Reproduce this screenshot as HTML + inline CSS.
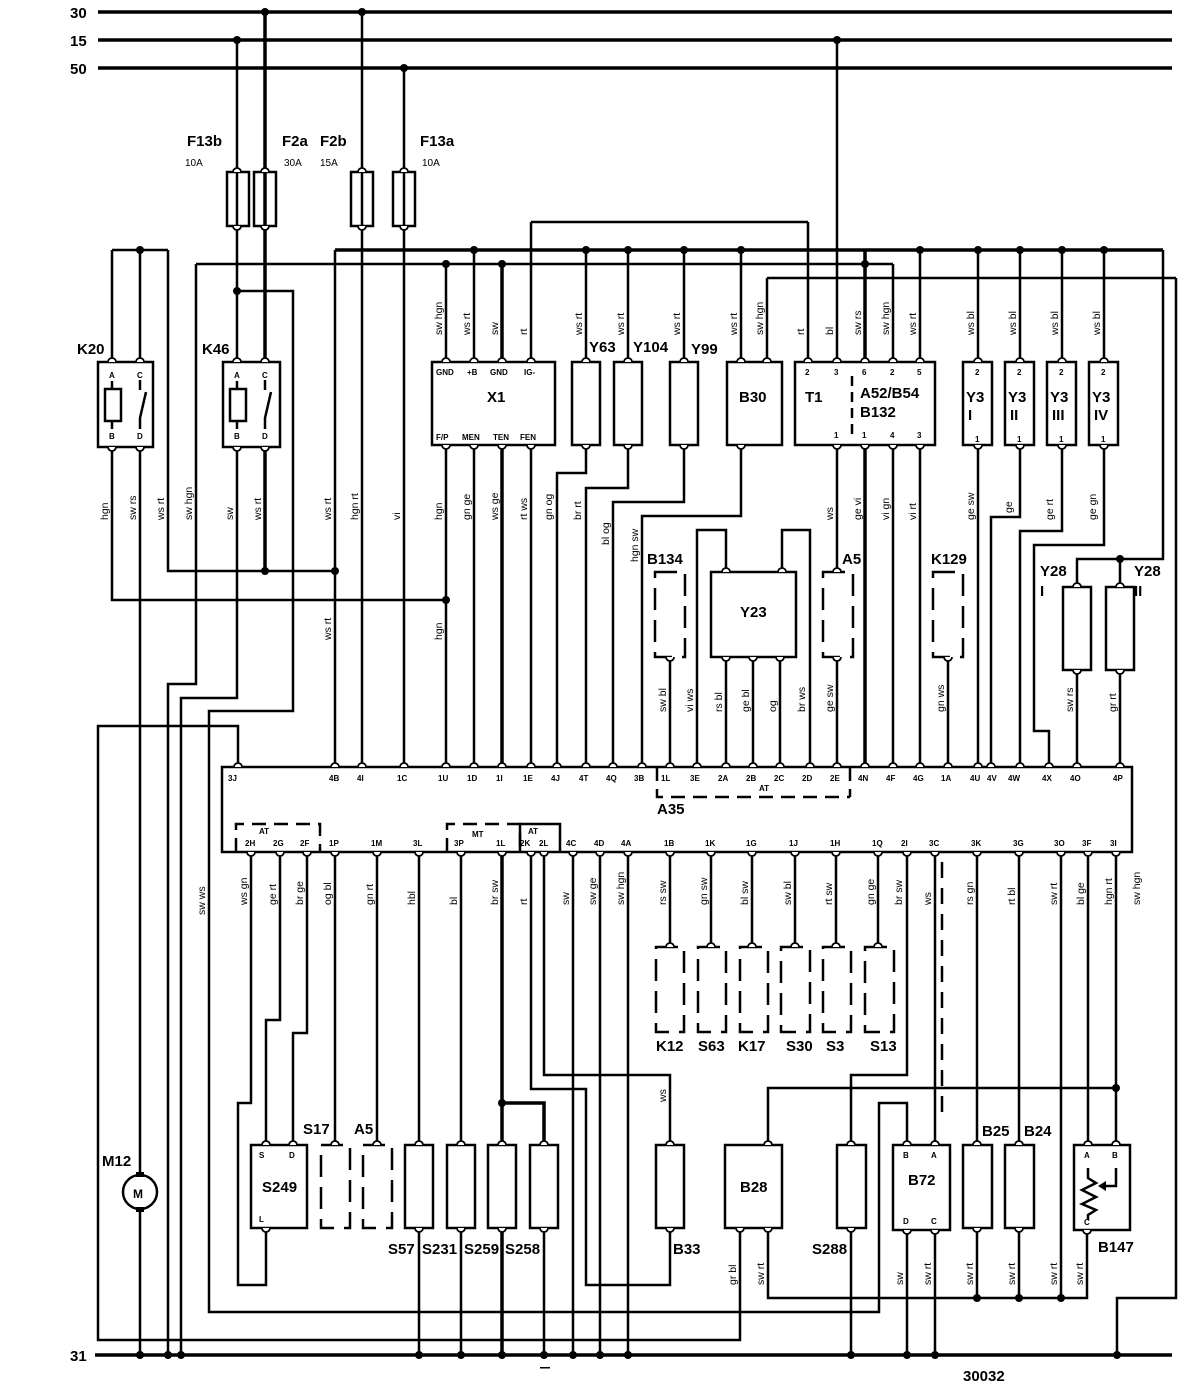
<!DOCTYPE html>
<html><head><meta charset="utf-8"><style>
html,body{margin:0;padding:0;background:#fff}
svg{display:block}
text{font-family:"Liberation Sans",sans-serif;fill:#000;stroke:none}
.b{font-weight:bold;font-size:15px}
.s{font-size:10px}
.p{font-weight:bold;font-size:8px}
.v{font-size:10.5px}
</style></head><body>
<svg width="1200" height="1397" viewBox="0 0 1200 1397" xmlns="http://www.w3.org/2000/svg">
<defs>
<symbol id="pt" overflow="visible"><path d="M-4,0 A4,4 0 0 1 4,0" fill="#fff" stroke="#000" stroke-width="1.8"/></symbol>
<symbol id="pb" overflow="visible"><path d="M-4,0 A4,4 0 0 0 4,0" fill="#fff" stroke="#000" stroke-width="1.8"/></symbol>
</defs>
<g stroke="#000" stroke-width="2.5" fill="none">
<g stroke-width="3.5">
<line x1="98" y1="12" x2="1172" y2="12"/>
<line x1="98" y1="40" x2="1172" y2="40"/>
<line x1="98" y1="68" x2="1172" y2="68"/>
<line x1="95" y1="1355" x2="1172" y2="1355"/>
<line x1="335" y1="250" x2="1163" y2="250"/>
</g>
<line x1="196" y1="264" x2="893" y2="264"/>
<line x1="767" y1="278" x2="1176" y2="278"/>
<line x1="531" y1="222" x2="808" y2="222"/>
<line x1="112" y1="250" x2="168" y2="250"/>
<path d="M237,40 V362"/>
<path d="M265,12 V362 M265,445 V571" stroke-width="3.5"/>
<path d="M362,12 V768"/>
<path d="M404,68 V768"/>
<path d="M837,40 V362"/>
<path d="M237,291 H293 V711 H209 V1312 H879 V1103 H907 V1145"/>
<path d="M112,250 V362 M140,250 V362 M168,250 V571 H335"/>
<path d="M112,445 V600 H446"/>
<path d="M140,445 V1174 M140,1210 V1355"/>
<path d="M196,264 V684 H168 V1355"/>
<path d="M237,445 V698 H181 V1355"/>
<path d="M238,768 V726 H98 V1340 H740 V1228"/>
<path d="M335,250 V768"/>
<path d="M446,264 V362 M446,445 V768 M474,250 V362 M474,445 V768 M531,222 V362 M531,445 V768"/>
<path d="M502,264 V362 M502,445 V768" stroke-width="3.5"/>
<path d="M586,250 V362 M586,445 V473 H557 V768"/>
<path d="M628,250 V362 M628,445 V488 H586 V768"/>
<path d="M684,250 V362 M684,445 V502 H613 V768"/>
<path d="M741,250 V362 M741,445 V516 H642 V768"/>
<path d="M767,278 V362 M808,222 V362"/>
<path d="M865,250 V362 M865,445 V768" stroke-width="3.5"/>
<path d="M893,264 V362 M893,445 V768 M920,250 V362 M920,445 V768 M837,445 V572"/>
<path d="M978,250 V362 M1020,250 V362 M1062,250 V362 M1104,250 V362"/>
<path d="M978,445 V768"/>
<path d="M1020,445 V517 H991 V768"/>
<path d="M1062,445 V531 H1020 V768"/>
<path d="M1104,445 V545 H1034 V731 H1049 V768"/>
<path d="M1163,250 V559 H1077 V587 M1120,559 V587"/>
<path d="M1077,670 V768 M1120,670 V768"/>
<path d="M1176,278 V1298 H1117 V1355"/>
<path d="M670,657 V768 M697,768 V530 H726 V572 M810,768 V530 H782 V572"/>
<path d="M726,657 V768 M753,657 V768 M780,657 V768 M837,657 V768 M948,657 V768"/>
<path d="M251,852 V1103 H238 V1285 H266 V1228"/>
<path d="M280,852 V1020 H266 V1145"/>
<path d="M307,852 V1033 H293 V1145"/>
<path d="M335,852 V1145 M377,852 V1145"/>
<path d="M419,852 V1145 M419,1228 V1355 M461,852 V1145 M461,1228 V1355"/>
<path d="M502,852 V1145 M502,1228 V1355 M502,1103 H544 V1145" stroke-width="3.5"/>
<path d="M544,1228 V1355"/>
<path d="M531,852 V1089 H586 V1285 H670 V1228"/>
<path d="M544,852 V1075 H670 V1145"/>
<path d="M573,852 V1355 M600,852 V1355 M628,852 V1355"/>
<path d="M670,852 V947 M711,852 V947 M752,852 V947 M795,852 V947 M836,852 V947 M878,852 V947"/>
<path d="M907,852 V1075 H851 V1145 M851,1228 V1355"/>
<path d="M935,852 V1145 M907,1228 V1355 M935,1228 V1355"/>
<path d="M942,862 V1120" stroke-dasharray="16 10"/>
<path d="M977,852 V1145 M977,1228 V1298 M1019,852 V1145 M1019,1228 V1298 M1061,852 V1298"/>
<path d="M1088,852 V1145 M1116,852 V1145"/>
<path d="M768,1145 V1088 H1116"/>
<path d="M768,1228 V1298 H1087 V1228"/>
<g fill="#fff">
<rect x="227" y="172" width="22" height="54"/><rect x="254" y="172" width="22" height="54"/>
<rect x="351" y="172" width="22" height="54"/><rect x="393" y="172" width="22" height="54"/>
<rect x="98" y="362" width="55" height="85"/><rect x="223" y="362" width="57" height="85"/>
<rect x="432" y="362" width="123" height="83"/>
<rect x="572" y="362" width="28" height="83"/><rect x="614" y="362" width="28" height="83"/>
<rect x="670" y="362" width="28" height="83"/><rect x="727" y="362" width="55" height="83"/>
<rect x="795" y="362" width="140" height="83"/>
<rect x="963" y="362" width="29" height="83"/><rect x="1005" y="362" width="29" height="83"/>
<rect x="1047" y="362" width="29" height="83"/><rect x="1089" y="362" width="29" height="83"/>
<rect x="711" y="572" width="85" height="85"/>
<rect x="1063" y="587" width="28" height="83"/><rect x="1106" y="587" width="28" height="83"/>
<rect x="222" y="767" width="910" height="85"/>
<rect x="251" y="1145" width="56" height="83"/>
<rect x="405" y="1145" width="28" height="83"/><rect x="447" y="1145" width="28" height="83"/>
<rect x="488" y="1145" width="28" height="83"/><rect x="530" y="1145" width="28" height="83"/>
<rect x="656" y="1145" width="28" height="83"/><rect x="725" y="1145" width="57" height="83"/>
<rect x="837" y="1145" width="29" height="83"/><rect x="893" y="1145" width="57" height="85"/>
<rect x="963" y="1145" width="29" height="83"/><rect x="1005" y="1145" width="29" height="83"/>
<rect x="1074" y="1145" width="56" height="85"/>
</g>
<line x1="237" y1="172" x2="237" y2="226"/><line x1="265" y1="172" x2="265" y2="226" stroke-width="3.5"/>
<line x1="362" y1="172" x2="362" y2="226"/><line x1="404" y1="172" x2="404" y2="226"/>
<g stroke-dasharray="22 10">
<rect x="655" y="572" width="30" height="85"/><rect x="823" y="572" width="30" height="85"/>
<rect x="933" y="572" width="30" height="85"/>
<rect x="656" y="947" width="28" height="85"/><rect x="698" y="947" width="28" height="85"/>
<rect x="740" y="947" width="28" height="85"/><rect x="781" y="947" width="29" height="85"/>
<rect x="823" y="947" width="28" height="85"/><rect x="865" y="947" width="29" height="85"/>
<rect x="321" y="1145" width="29" height="83"/><rect x="363" y="1145" width="29" height="83"/>
</g>
<path d="M657,767 V797 H850 M850,767 V797" stroke-dasharray="14 8"/>
<path d="M236,852 V824 H320 V852" stroke-dasharray="14 8"/>
<path d="M447,852 V824 H520 V852" stroke-dasharray="14 8"/>
<path d="M520,852 V824 H560 V852"/>
<path d="M852,376 V440" stroke-dasharray="10 6"/>
<rect x="105" y="389" width="16" height="32"/>
<path d="M112,381 V389 M112,421 V429 M140,380 V390 M146,392 L140,418 V429"/>
<rect x="230" y="389" width="16" height="32"/>
<path d="M237,381 V389 M237,421 V429 M265,380 V390 M271,392 L265,418 V429"/>
<path d="M1088,1168 V1178 L1096,1183 L1082,1190 L1096,1197 L1082,1204 L1096,1210 L1088,1215 V1220"/>
<path d="M1116,1168 V1186 H1102"/>
<circle cx="140" cy="1192" r="17" stroke-width="2.5"/>
</g>
<path d="M1098,1186 l8,-5 v10 z" fill="#000"/>
<g>
<use href="#pt" x="237" y="172"/><use href="#pt" x="265" y="172"/><use href="#pt" x="362" y="172"/><use href="#pt" x="404" y="172"/>
<use href="#pb" x="237" y="226"/><use href="#pb" x="265" y="226"/><use href="#pb" x="362" y="226"/><use href="#pb" x="404" y="226"/>
<use href="#pt" x="112" y="362"/><use href="#pt" x="140" y="362"/><use href="#pt" x="237" y="362"/><use href="#pt" x="265" y="362"/>
<use href="#pb" x="112" y="447"/><use href="#pb" x="140" y="447"/><use href="#pb" x="237" y="447"/><use href="#pb" x="265" y="447"/>
<use href="#pt" x="446" y="362"/><use href="#pt" x="474" y="362"/><use href="#pt" x="502" y="362"/><use href="#pt" x="531" y="362"/>
<use href="#pb" x="446" y="445"/><use href="#pb" x="474" y="445"/><use href="#pb" x="502" y="445"/><use href="#pb" x="531" y="445"/>
<use href="#pt" x="586" y="362"/><use href="#pt" x="628" y="362"/><use href="#pt" x="684" y="362"/><use href="#pt" x="741" y="362"/><use href="#pt" x="767" y="362"/>
<use href="#pb" x="586" y="445"/><use href="#pb" x="628" y="445"/><use href="#pb" x="684" y="445"/><use href="#pb" x="741" y="445"/>
<use href="#pt" x="808" y="362"/><use href="#pt" x="837" y="362"/><use href="#pt" x="865" y="362"/><use href="#pt" x="893" y="362"/><use href="#pt" x="920" y="362"/>
<use href="#pb" x="837" y="445"/><use href="#pb" x="865" y="445"/><use href="#pb" x="893" y="445"/><use href="#pb" x="920" y="445"/>
<use href="#pt" x="978" y="362"/><use href="#pt" x="1020" y="362"/><use href="#pt" x="1062" y="362"/><use href="#pt" x="1104" y="362"/>
<use href="#pb" x="978" y="445"/><use href="#pb" x="1020" y="445"/><use href="#pb" x="1062" y="445"/><use href="#pb" x="1104" y="445"/>
<use href="#pb" x="670" y="657"/><use href="#pt" x="726" y="572"/><use href="#pt" x="782" y="572"/>
<use href="#pb" x="726" y="657"/><use href="#pb" x="753" y="657"/><use href="#pb" x="780" y="657"/>
<use href="#pt" x="837" y="572"/><use href="#pb" x="837" y="657"/><use href="#pb" x="948" y="657"/>
<use href="#pt" x="1077" y="587"/><use href="#pt" x="1120" y="587"/><use href="#pb" x="1077" y="670"/><use href="#pb" x="1120" y="670"/>
<use href="#pt" x="238" y="767"/><use href="#pt" x="335" y="767"/><use href="#pt" x="362" y="767"/><use href="#pt" x="404" y="767"/>
<use href="#pt" x="446" y="767"/><use href="#pt" x="474" y="767"/><use href="#pt" x="502" y="767"/><use href="#pt" x="531" y="767"/>
<use href="#pt" x="557" y="767"/><use href="#pt" x="586" y="767"/><use href="#pt" x="613" y="767"/><use href="#pt" x="642" y="767"/>
<use href="#pt" x="670" y="767"/><use href="#pt" x="697" y="767"/><use href="#pt" x="726" y="767"/><use href="#pt" x="753" y="767"/>
<use href="#pt" x="780" y="767"/><use href="#pt" x="810" y="767"/><use href="#pt" x="837" y="767"/><use href="#pt" x="865" y="767"/>
<use href="#pt" x="893" y="767"/><use href="#pt" x="920" y="767"/><use href="#pt" x="948" y="767"/><use href="#pt" x="978" y="767"/>
<use href="#pt" x="991" y="767"/><use href="#pt" x="1020" y="767"/><use href="#pt" x="1049" y="767"/><use href="#pt" x="1077" y="767"/><use href="#pt" x="1120" y="767"/>
<use href="#pb" x="251" y="852"/><use href="#pb" x="280" y="852"/><use href="#pb" x="307" y="852"/><use href="#pb" x="335" y="852"/>
<use href="#pb" x="377" y="852"/><use href="#pb" x="419" y="852"/><use href="#pb" x="461" y="852"/><use href="#pb" x="502" y="852"/>
<use href="#pb" x="531" y="852"/><use href="#pb" x="544" y="852"/><use href="#pb" x="573" y="852"/><use href="#pb" x="600" y="852"/>
<use href="#pb" x="628" y="852"/><use href="#pb" x="670" y="852"/><use href="#pb" x="711" y="852"/><use href="#pb" x="752" y="852"/>
<use href="#pb" x="795" y="852"/><use href="#pb" x="836" y="852"/><use href="#pb" x="878" y="852"/><use href="#pb" x="907" y="852"/>
<use href="#pb" x="935" y="852"/><use href="#pb" x="977" y="852"/><use href="#pb" x="1019" y="852"/><use href="#pb" x="1061" y="852"/>
<use href="#pb" x="1088" y="852"/><use href="#pb" x="1116" y="852"/>
<use href="#pt" x="670" y="947"/><use href="#pt" x="711" y="947"/><use href="#pt" x="752" y="947"/><use href="#pt" x="795" y="947"/><use href="#pt" x="836" y="947"/><use href="#pt" x="878" y="947"/>
<use href="#pt" x="266" y="1145"/><use href="#pt" x="293" y="1145"/><use href="#pb" x="266" y="1228"/>
<use href="#pt" x="335" y="1145"/><use href="#pt" x="377" y="1145"/>
<use href="#pt" x="419" y="1145"/><use href="#pt" x="461" y="1145"/><use href="#pt" x="502" y="1145"/><use href="#pt" x="544" y="1145"/>
<use href="#pb" x="419" y="1228"/><use href="#pb" x="461" y="1228"/><use href="#pb" x="502" y="1228"/><use href="#pb" x="544" y="1228"/>
<use href="#pt" x="670" y="1145"/><use href="#pb" x="670" y="1228"/><use href="#pt" x="768" y="1145"/><use href="#pb" x="740" y="1228"/><use href="#pb" x="768" y="1228"/>
<use href="#pt" x="851" y="1145"/><use href="#pb" x="851" y="1228"/>
<use href="#pt" x="907" y="1145"/><use href="#pt" x="935" y="1145"/><use href="#pb" x="907" y="1230"/><use href="#pb" x="935" y="1230"/>
<use href="#pt" x="977" y="1145"/><use href="#pb" x="977" y="1228"/><use href="#pt" x="1019" y="1145"/><use href="#pb" x="1019" y="1228"/>
<use href="#pt" x="1088" y="1145"/><use href="#pt" x="1116" y="1145"/><use href="#pb" x="1087" y="1230"/>
</g>
<g fill="#000">
<circle cx="265" cy="12" r="4"/><circle cx="362" cy="12" r="4"/><circle cx="237" cy="40" r="4"/><circle cx="837" cy="40" r="4"/><circle cx="404" cy="68" r="4"/>
<circle cx="140" cy="250" r="4"/><circle cx="237" cy="291" r="4"/><circle cx="265" cy="571" r="4"/><circle cx="335" cy="571" r="4"/><circle cx="446" cy="600" r="4"/>
<circle cx="446" cy="264" r="4"/><circle cx="474" cy="250" r="4"/><circle cx="502" cy="264" r="4"/>
<circle cx="586" cy="250" r="4"/><circle cx="628" cy="250" r="4"/><circle cx="684" cy="250" r="4"/><circle cx="741" cy="250" r="4"/>
<circle cx="865" cy="264" r="4"/><circle cx="920" cy="250" r="4"/><circle cx="978" cy="250" r="4"/><circle cx="1020" cy="250" r="4"/><circle cx="1062" cy="250" r="4"/><circle cx="1104" cy="250" r="4"/>
<circle cx="1120" cy="559" r="4"/>
<circle cx="502" cy="1103" r="4"/><circle cx="1116" cy="1088" r="4"/>
<circle cx="977" cy="1298" r="4"/><circle cx="1019" cy="1298" r="4"/><circle cx="1061" cy="1298" r="4"/>
<circle cx="140" cy="1355" r="4"/><circle cx="168" cy="1355" r="4"/><circle cx="181" cy="1355" r="4"/><circle cx="419" cy="1355" r="4"/><circle cx="461" cy="1355" r="4"/>
<circle cx="502" cy="1355" r="4"/><circle cx="544" cy="1355" r="4"/><circle cx="573" cy="1355" r="4"/><circle cx="600" cy="1355" r="4"/><circle cx="628" cy="1355" r="4"/>
<circle cx="851" cy="1355" r="4"/><circle cx="907" cy="1355" r="4"/><circle cx="935" cy="1355" r="4"/><circle cx="1117" cy="1355" r="4"/>
<rect x="136" y="1172" width="8" height="5"/><rect x="136" y="1207" width="8" height="5"/>
<rect x="540" y="1367" width="10" height="1.5"/>
</g>
<g class="b">
<text x="70" y="18">30</text><text x="70" y="46">15</text><text x="70" y="74">50</text><text x="70" y="1361">31</text>
<text x="187" y="146">F13b</text><text x="282" y="146">F2a</text><text x="320" y="146">F2b</text><text x="420" y="146">F13a</text>
<text x="77" y="354">K20</text><text x="202" y="354">K46</text>
<text x="487" y="402">X1</text><text x="589" y="352">Y63</text><text x="633" y="352">Y104</text><text x="691" y="354">Y99</text>
<text x="739" y="402">B30</text><text x="805" y="402">T1</text><text x="860" y="398">A52/B54</text><text x="860" y="417">B132</text>
<text x="966" y="402">Y3</text><text x="1008" y="402">Y3</text><text x="1050" y="402">Y3</text><text x="1092" y="402">Y3</text>
<text x="968" y="420">I</text><text x="1010" y="420">II</text><text x="1052" y="420">III</text><text x="1094" y="420">IV</text>
<text x="647" y="564">B134</text><text x="740" y="617">Y23</text><text x="842" y="564">A5</text><text x="931" y="564">K129</text>
<text x="1040" y="576">Y28</text><text x="1040" y="596">I</text><text x="1134" y="576">Y28</text><text x="1134" y="596">II</text>
<text x="657" y="814">A35</text>
<text x="656" y="1051">K12</text><text x="698" y="1051">S63</text><text x="738" y="1051">K17</text><text x="786" y="1051">S30</text><text x="826" y="1051">S3</text><text x="870" y="1051">S13</text>
<text x="102" y="1166">M12</text><text x="133" y="1198" font-size="12">M</text>
<text x="262" y="1192">S249</text><text x="303" y="1134">S17</text><text x="354" y="1134">A5</text>
<text x="388" y="1254">S57</text><text x="422" y="1254">S231</text><text x="464" y="1254">S259</text><text x="505" y="1254">S258</text>
<text x="673" y="1254">B33</text><text x="740" y="1192">B28</text><text x="812" y="1254">S288</text><text x="908" y="1185">B72</text>
<text x="982" y="1136">B25</text><text x="1024" y="1136">B24</text><text x="1098" y="1252">B147</text>
<text x="963" y="1381">30032</text>
</g>
<g class="s">
<text x="185" y="166">10A</text><text x="284" y="166">30A</text><text x="320" y="166">15A</text><text x="422" y="166">10A</text>
</g>
<g class="p">
<text x="109" y="378">A</text><text x="137" y="378">C</text><text x="109" y="439">B</text><text x="137" y="439">D</text>
<text x="234" y="378">A</text><text x="262" y="378">C</text><text x="234" y="439">B</text><text x="262" y="439">D</text>
<text x="436" y="375">GND</text><text x="467" y="375">+B</text><text x="490" y="375">GND</text><text x="524" y="375">IG-</text>
<text x="436" y="440">F/P</text><text x="462" y="440">MEN</text><text x="493" y="440">TEN</text><text x="520" y="440">FEN</text>
<text x="805" y="375">2</text><text x="834" y="375">3</text><text x="862" y="375">6</text><text x="890" y="375">2</text><text x="917" y="375">5</text>
<text x="834" y="438">1</text><text x="862" y="438">1</text><text x="890" y="438">4</text><text x="917" y="438">3</text>
<text x="975" y="375">2</text><text x="1017" y="375">2</text><text x="1059" y="375">2</text><text x="1101" y="375">2</text>
<text x="975" y="442">1</text><text x="1017" y="442">1</text><text x="1059" y="442">1</text><text x="1101" y="442">1</text>
<text x="228" y="781">3J</text><text x="329" y="781">4B</text><text x="357" y="781">4I</text><text x="397" y="781">1C</text><text x="438" y="781">1U</text><text x="467" y="781">1D</text>
<text x="496" y="781">1I</text><text x="523" y="781">1E</text><text x="551" y="781">4J</text><text x="579" y="781">4T</text><text x="606" y="781">4Q</text><text x="634" y="781">3B</text>
<text x="661" y="781">1L</text><text x="690" y="781">3E</text><text x="718" y="781">2A</text><text x="746" y="781">2B</text><text x="774" y="781">2C</text><text x="802" y="781">2D</text>
<text x="830" y="781">2E</text><text x="858" y="781">4N</text><text x="886" y="781">4F</text><text x="913" y="781">4G</text><text x="941" y="781">1A</text><text x="970" y="781">4U</text>
<text x="987" y="781">4V</text><text x="1008" y="781">4W</text><text x="1042" y="781">4X</text><text x="1070" y="781">4O</text><text x="1113" y="781">4P</text>
<text x="759" y="791">AT</text>
<text x="259" y="834">AT</text><text x="472" y="837">MT</text><text x="528" y="834">AT</text>
<text x="245" y="846">2H</text><text x="273" y="846">2G</text><text x="300" y="846">2F</text><text x="329" y="846">1P</text><text x="371" y="846">1M</text><text x="413" y="846">3L</text>
<text x="454" y="846">3P</text><text x="496" y="846">1L</text><text x="520" y="846">2K</text><text x="539" y="846">2L</text><text x="566" y="846">4C</text><text x="594" y="846">4D</text>
<text x="621" y="846">4A</text><text x="664" y="846">1B</text><text x="705" y="846">1K</text><text x="746" y="846">1G</text><text x="789" y="846">1J</text><text x="830" y="846">1H</text>
<text x="872" y="846">1Q</text><text x="901" y="846">2I</text><text x="929" y="846">3C</text><text x="971" y="846">3K</text><text x="1013" y="846">3G</text><text x="1054" y="846">3O</text>
<text x="1082" y="846">3F</text><text x="1110" y="846">3I</text>
<text x="259" y="1158">S</text><text x="289" y="1158">D</text><text x="259" y="1222">L</text>
<text x="903" y="1158">B</text><text x="931" y="1158">A</text><text x="903" y="1224">D</text><text x="931" y="1224">C</text>
<text x="1084" y="1158">A</text><text x="1112" y="1158">B</text><text x="1084" y="1225">C</text>
</g>
<g class="v">
<text transform="translate(442,335) rotate(-90)">sw hgn</text><text transform="translate(470,335) rotate(-90)">ws rt</text>
<text transform="translate(498,335) rotate(-90)">sw</text><text transform="translate(527,335) rotate(-90)">rt</text>
<text transform="translate(582,335) rotate(-90)">ws rt</text><text transform="translate(624,335) rotate(-90)">ws rt</text>
<text transform="translate(680,335) rotate(-90)">ws rt</text><text transform="translate(737,335) rotate(-90)">ws rt</text>
<text transform="translate(763,335) rotate(-90)">sw hgn</text><text transform="translate(804,335) rotate(-90)">rt</text>
<text transform="translate(833,335) rotate(-90)">bl</text><text transform="translate(861,335) rotate(-90)">sw rs</text>
<text transform="translate(889,335) rotate(-90)">sw hgn</text><text transform="translate(916,335) rotate(-90)">ws rt</text>
<text transform="translate(974,335) rotate(-90)">ws bl</text><text transform="translate(1016,335) rotate(-90)">ws bl</text>
<text transform="translate(1058,335) rotate(-90)">ws bl</text><text transform="translate(1100,335) rotate(-90)">ws bl</text>
<text transform="translate(108,520) rotate(-90)">hgn</text><text transform="translate(136,520) rotate(-90)">sw rs</text>
<text transform="translate(164,520) rotate(-90)">ws rt</text><text transform="translate(192,520) rotate(-90)">sw hgn</text>
<text transform="translate(233,520) rotate(-90)">sw</text><text transform="translate(261,520) rotate(-90)">ws rt</text>
<text transform="translate(331,520) rotate(-90)">ws rt</text><text transform="translate(358,520) rotate(-90)">hgn rt</text>
<text transform="translate(400,520) rotate(-90)">vi</text><text transform="translate(442,520) rotate(-90)">hgn</text>
<text transform="translate(470,520) rotate(-90)">gn ge</text><text transform="translate(498,520) rotate(-90)">ws ge</text>
<text transform="translate(527,520) rotate(-90)">rt ws</text><text transform="translate(552,520) rotate(-90)">gn og</text>
<text transform="translate(581,520) rotate(-90)">br rt</text><text transform="translate(609,545) rotate(-90)">bl og</text>
<text transform="translate(638,562) rotate(-90)">hgn sw</text>
<text transform="translate(833,520) rotate(-90)">ws</text><text transform="translate(861,520) rotate(-90)">ge vi</text>
<text transform="translate(889,520) rotate(-90)">vi gn</text><text transform="translate(916,520) rotate(-90)">vi rt</text>
<text transform="translate(974,520) rotate(-90)">ge sw</text><text transform="translate(1012,513) rotate(-90)">ge</text>
<text transform="translate(1053,520) rotate(-90)">ge rt</text><text transform="translate(1096,520) rotate(-90)">ge gn</text>
<text transform="translate(331,640) rotate(-90)">ws rt</text><text transform="translate(442,640) rotate(-90)">hgn</text>
<text transform="translate(666,712) rotate(-90)">sw bl</text><text transform="translate(693,712) rotate(-90)">vi ws</text>
<text transform="translate(722,712) rotate(-90)">rs bl</text><text transform="translate(749,712) rotate(-90)">ge bl</text>
<text transform="translate(776,712) rotate(-90)">og</text><text transform="translate(805,712) rotate(-90)">br ws</text>
<text transform="translate(833,712) rotate(-90)">ge sw</text><text transform="translate(944,712) rotate(-90)">gn ws</text>
<text transform="translate(1073,712) rotate(-90)">sw rs</text><text transform="translate(1116,712) rotate(-90)">gr rt</text>
<text transform="translate(205,915) rotate(-90)">sw ws</text>
<text transform="translate(247,905) rotate(-90)">ws gn</text><text transform="translate(276,905) rotate(-90)">ge rt</text>
<text transform="translate(303,905) rotate(-90)">br ge</text><text transform="translate(331,905) rotate(-90)">og bl</text>
<text transform="translate(373,905) rotate(-90)">gn rt</text><text transform="translate(415,905) rotate(-90)">hbl</text>
<text transform="translate(457,905) rotate(-90)">bl</text><text transform="translate(498,905) rotate(-90)">br sw</text>
<text transform="translate(527,905) rotate(-90)">rt</text><text transform="translate(569,905) rotate(-90)">sw</text>
<text transform="translate(596,905) rotate(-90)">sw ge</text><text transform="translate(624,905) rotate(-90)">sw hgn</text>
<text transform="translate(666,905) rotate(-90)">rs sw</text><text transform="translate(707,905) rotate(-90)">gn sw</text>
<text transform="translate(748,905) rotate(-90)">bl sw</text><text transform="translate(791,905) rotate(-90)">sw bl</text>
<text transform="translate(832,905) rotate(-90)">rt sw</text><text transform="translate(874,905) rotate(-90)">gn ge</text>
<text transform="translate(902,905) rotate(-90)">br sw</text><text transform="translate(931,905) rotate(-90)">ws</text>
<text transform="translate(973,905) rotate(-90)">rs gn</text><text transform="translate(1015,905) rotate(-90)">rt bl</text>
<text transform="translate(1057,905) rotate(-90)">sw rt</text><text transform="translate(1084,905) rotate(-90)">bl ge</text>
<text transform="translate(1112,905) rotate(-90)">hgn rt</text><text transform="translate(1140,905) rotate(-90)">sw hgn</text>
<text transform="translate(666,1102) rotate(-90)">ws</text>
<text transform="translate(736,1285) rotate(-90)">gr bl</text><text transform="translate(764,1285) rotate(-90)">sw rt</text>
<text transform="translate(903,1285) rotate(-90)">sw</text><text transform="translate(931,1285) rotate(-90)">sw rt</text>
<text transform="translate(973,1285) rotate(-90)">sw rt</text><text transform="translate(1015,1285) rotate(-90)">sw rt</text>
<text transform="translate(1057,1285) rotate(-90)">sw rt</text><text transform="translate(1083,1285) rotate(-90)">sw rt</text>
</g>
</svg>
</body></html>
